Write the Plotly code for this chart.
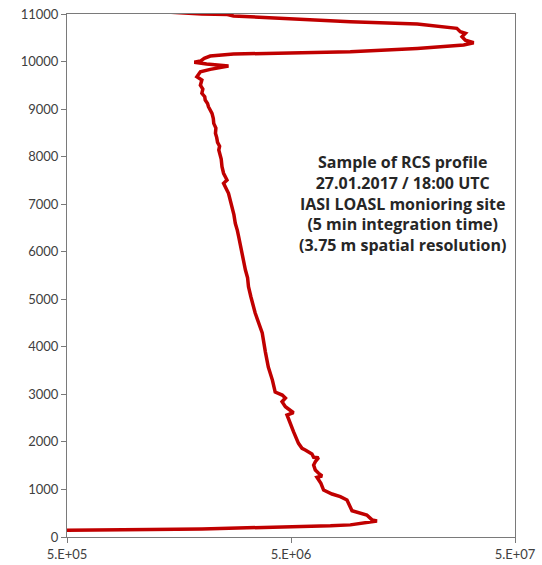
import plotly.graph_objects as go

# Altitude (m) and range-corrected signal (a.u.)
altitude = [130, 147, 158, 170, 185, 205, 235, 255, 285, 315, 335, 360, 463, 553, 652, 778,
            848, 904, 988, 1129, 1255, 1283, 1340, 1409, 1514, 1584, 1668, 1676, 1745, 1794,
            1830, 1865, 1970, 2215, 2461, 2566, 2614, 2671, 2740, 2845, 2881, 2923, 2986, 3049,
            3300, 3575, 3900, 4290, 4711, 4984, 5054, 5264, 5450, 5615, 5800, 5966, 6150, 6315,
            6450, 6597, 6780, 6946, 7100, 7228, 7438, 7508, 7650, 7788, 7950, 8050, 8139, 8220,
            8300, 8400, 8490, 8600, 8700, 8800, 8911, 9050, 9120, 9190, 9260, 9331, 9420, 9500,
            9560, 9611, 9680, 9786, 9835, 9905, 9950, 9985, 10010, 10067, 10116, 10158, 10206,
            10277, 10347, 10395, 10450, 10522, 10560, 10593, 10628, 10698, 10788, 10837, 10960,
            10990, 11000, 11050]
rcs = [3.0e5, 5.0e5, 1.18e6, 2.0e6, 3.0e6, 5.0e6, 7.5e6, 9.2e6, 1.05e7, 1.18e7, 1.21e7,
       1.15e7, 1.09e7, 9.36e6, 9.13e6, 8.89e6, 8.3e6, 7.62e6, 6.99e6, 6.8e6, 6.53e6, 6.88e6,
       6.64e6, 6.42e6, 6.31e6, 6.42e6, 6.64e6, 6.31e6, 6.2e6, 5.89e6, 5.79e6, 5.6e6, 5.4e6,
       5.13e6, 4.88e6, 4.8e6, 5.13e6, 4.97e6, 4.72e6, 4.56e6, 4.63e6, 4.72e6, 4.57e6, 4.25e6,
       4.13e6, 3.96e6, 3.84e6, 3.72e6, 3.46e6, 3.36e6, 3.31e6, 3.23e6, 3.2e6, 3.13e6, 3.08e6,
       3.02e6, 2.98e6, 2.92e6, 2.88e6, 2.82e6, 2.78e6, 2.73e6, 2.69e6, 2.63e6, 2.50e6, 2.59e6,
       2.50e6, 2.46e6, 2.44e6, 2.40e6, 2.38e6, 2.40e6, 2.35e6, 2.33e6, 2.30e6, 2.31e6, 2.26e6,
       2.25e6, 2.22e6, 2.14e6, 2.12e6, 2.07e6, 2.06e6, 2.0e6, 2.02e6, 1.97e6, 1.99e6, 2.0e6,
       1.90e6, 1.97e6, 2.18e6, 2.63e6, 2.1e6, 1.85e6, 1.97e6, 2.05e6, 2.18e6, 2.77e6, 9.2e6,
       1.83e7, 2.95e7, 3.27e7, 3.0e7, 2.9e7, 2.95e7, 3.0e7, 2.85e7, 2.75e7, 1.83e7, 9.2e6,
       2.77e6, 2.6e6, 2.0e6, 1.3e6]

x_tickvals = [5e5, 5e6, 5e7]
x_ticktext = ["5.E+05", "5.E+06", "5.E+07"]
y_tickvals = list(range(0, 11001, 1000))

note_lines = ["Sample of RCS profile", "27.01.2017 / 18:00 UTC", "IASI LOASL monioring site",
              "(5 min integration time)", "(3.75 m spatial resolution)"]

fig = go.Figure()
fig.add_trace(go.Scatter(x=rcs, y=altitude, mode="lines",
                         line=dict(color="#C00000", width=3.5), hoverinfo="skip",
                         showlegend=False))

axis_common = dict(showgrid=False, zeroline=False, showline=True, linecolor="#7a7a7a",
                   linewidth=1, mirror=True, ticks="outside", tickcolor="#7a7a7a",
                   ticklen=5, automargin=False,
                   tickfont=dict(family="Lato", size=13, color="#404040"))

fig.update_xaxes(type="log", range=[5.69897, 7.69897], tickvals=x_tickvals,
                 ticktext=x_ticktext, **axis_common)
fig.update_yaxes(range=[0, 11000], tickvals=y_tickvals, tickformat="d", **axis_common)

fig.add_annotation(x=0.748, y=0.638, xref="paper", yref="paper", xanchor="center",
                   yanchor="middle", text="<br>".join(note_lines), showarrow=False,
                   align="center",
                   font=dict(family="Open Sans", size=16, color="#262626", weight="bold"))

fig.update_layout(width=542, height=565, margin=dict(l=67, r=27, t=14, b=28),
                  plot_bgcolor="white", paper_bgcolor="white")

fig.write_html("out.html")
